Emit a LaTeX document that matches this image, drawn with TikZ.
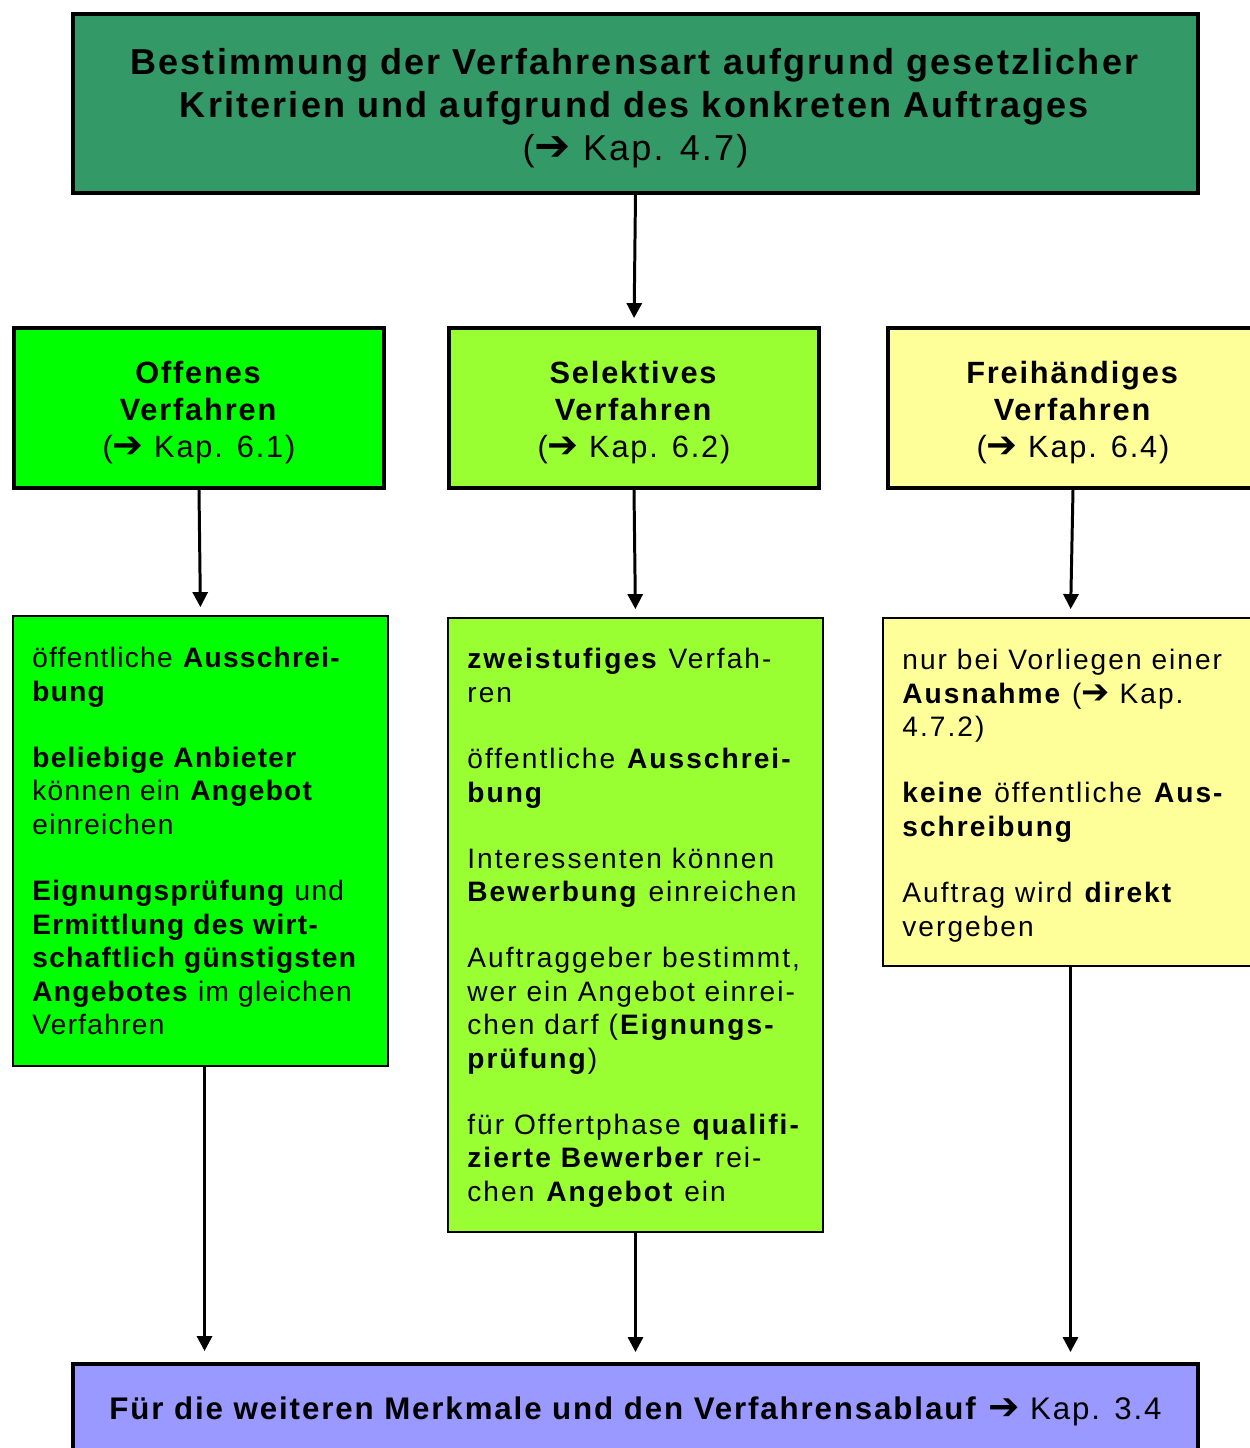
\documentclass[tikz,border=0pt]{standalone}
\usepackage{fontspec}
\usepackage{tikz}
\setmainfont{Liberation Sans}[LetterSpace=6]
\newfontfamily\arrowfont{DejaVu Sans}
\usetikzlibrary{arrows.meta}
\newcommand{\kap}{{\arrowfont\bfseries\scalebox{1.2}{➔}}}
\newcommand{\headstrut}{\rule{0pt}{17.5pt}}
\definecolor{topgreen}{HTML}{339966}
\definecolor{offgreen}{HTML}{00FF00}
\definecolor{selgreen}{HTML}{99FF33}
\definecolor{freiyellow}{HTML}{FFFF99}
\definecolor{endblue}{HTML}{9999FF}

\begin{document}
\begin{tikzpicture}[x=0.02cm, y=-0.02cm,
    thickbox/.style={draw, line width=2.2pt, inner sep=0pt, align=center},
    headbox/.style={thickbox, minimum width=7.4cm, minimum height=3.2cm,
        font=\fontsize{17.5}{21}\selectfont},
    thinbox/.style={draw, line width=1.1pt, inner sep=0pt, minimum width=7.5cm},
    bodytext/.style={anchor=north west, inner sep=0pt, align=left,
        font=\fontsize{16}{19.1}\selectfont\addfontfeature{LetterSpace=7.2}},
    arr/.style={line width=1.7pt, -{Triangle[length=0.3cm, width=0.3cm]}, shorten >=0.16cm}]
    \useasboundingbox (0,0) rectangle (1250,1448);

    % Top box
    \node[thickbox, fill=topgreen, minimum width=22.5cm, minimum height=3.58cm,
          font=\fontsize{20.5}{24.4}\selectfont] (start) at (635.5,103.5)
        {\rule{0pt}{20pt}\textbf{Bestimmung der Verfahrensart aufgrund gesetzlicher}\\
         \textbf{Kriterien und aufgrund des konkreten Auftrages}\\
         (\kap\ Kap. 4.7)};

    % The three procedures
    \node[headbox, fill=offgreen] (offhead) at (199,408)
        {\headstrut\textbf{Offenes}\\ \textbf{Verfahren}\\ (\kap\ Kap. 6.1)};
    \node[headbox, fill=selgreen] (selhead) at (634,408)
        {\headstrut\textbf{Selektives}\\ \textbf{Verfahren}\\ (\kap\ Kap. 6.2)};
    \node[headbox, fill=freiyellow] (freihead) at (1073,408)
        {\headstrut\textbf{Freihändiges}\\ \textbf{Verfahren}\\ (\kap\ Kap. 6.4)};

    % Descriptions
    \node[thinbox, fill=offgreen, minimum height=9.0cm] (offcont) at (200.5,841) {};
    \node[thinbox, fill=selgreen, minimum height=12.28cm] (selcont) at (635.5,925) {};
    \node[thinbox, fill=freiyellow, minimum height=6.96cm] (freicont) at (1070.5,792) {};

    \node[bodytext, font=\fontsize{16}{19.1}\selectfont\addfontfeature{LetterSpace=4.5}]
        (offtext) at ([shift={(20,32)}]offcont.north west)
        {öffentliche \textbf{Ausschrei-}\\
         \textbf{bung}\\[18.5pt]
         \textbf{beliebige Anbieter}\\
         können ein \textbf{Angebot}\\
         einreichen\\[18.5pt]
         \textbf{Eignungsprüfung} und\\
         \textbf{Ermittlung des wirt-}\\
         \textbf{schaftlich günstigsten}\\
         \textbf{Angebotes} im gleichen\\
         Verfahren};
    \node[bodytext] (seltext) at ([shift={(20,31)}]selcont.north west)
        {\textbf{zweistufiges} Verfah-\\
         ren\\[18.5pt]
         öffentliche \textbf{Ausschrei-}\\
         \textbf{bung}\\[18.5pt]
         Interessenten können\\
         \textbf{Bewerbung} einreichen\\[18.5pt]
         Auftraggeber bestimmt,\\
         wer ein Angebot einrei-\\
         chen darf (\textbf{Eignungs-}\\
         \textbf{prüfung})\\[18.5pt]
         für Offertphase \textbf{qualifi-}\\
         \textbf{zierte Bewerber} rei-\\
         chen \textbf{Angebot} ein};
    \node[bodytext] (freitext) at ([shift={(20,32)}]freicont.north west)
        {nur bei Vorliegen einer\\
         \textbf{Ausnahme} (\kap\ Kap.\\
         4.7.2)\\[18.5pt]
         \textbf{keine} öffentliche \textbf{Aus-}\\
         \textbf{schreibung}\\[18.5pt]
         Auftrag wird \textbf{direkt}\\
         vergeben};

    % Bottom box
    \node[thickbox, fill=endblue, minimum width=22.5cm, minimum height=1.8cm,
          font=\fontsize{17.8}{21}\selectfont] (finish) at (635.5,1409)
        {\rule{0pt}{16pt}\textbf{Für die weiteren Merkmale und den Verfahrensablauf} \kap\ Kap. 3.4};

    % Arrows
    \draw[arr] (start.south) -- (selhead.north);
    \draw[arr] (offhead.south) -- (offcont.north);
    \draw[arr] (selhead.south) -- (selcont.north);
    \draw[arr] (freihead.south) -- (freicont.north);
    \draw[arr, shorten >=0.22cm] ([xshift=2.3pt]offcont.south) -- ([xshift=2.3pt]offcont.south |- finish.north);
    \draw[arr, shorten >=0.2cm] (selcont.south) -- (selcont.south |- finish.north);
    \draw[arr, shorten >=0.2cm] (freicont.south) -- (freicont.south |- finish.north);
\end{tikzpicture}
\end{document}
